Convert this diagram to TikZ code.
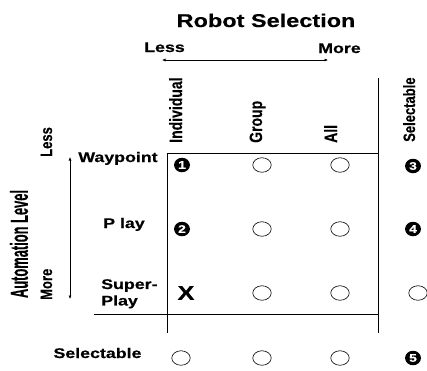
\documentclass[tikz,border=0pt]{standalone}
\usepackage{fontspec}
\setmainfont{Liberation Sans}[BoldFeatures={FakeBold=0.35}]
\usetikzlibrary{arrows.meta,shapes.geometric}

\begin{document}
\begin{tikzpicture}[x=0.787402pt, y=-1pt, xscale=1.27, transform shape,
  rule/.style={line width=0.8pt, black},
  dblarrow/.style={line width=0.6pt, {Latex[length=3.5pt,width=3pt]}-{Latex[length=3.5pt,width=3pt]}},
  lbl/.style={font=\fontsize{14}{16.5}\selectfont\bfseries, inner sep=0pt},
  collbl/.style={lbl, rotate=90, anchor=base west},
  sidelbl/.style={font=\fontsize{13}{15}\selectfont\bfseries, inner sep=0pt, rotate=90, anchor=base west},
  ring/.style={circle, draw, line width=0.6pt, minimum size=14.5pt, inner sep=0pt},
  numdot/.style={ellipse, fill=black, text=white, minimum width=12.5pt, minimum height=14.5pt,
                 inner sep=0pt, font=\fontsize{11}{11}\selectfont\bfseries},
  cross/.style={font=\fontsize{20}{22}\selectfont\bfseries, inner sep=0pt}]
\useasboundingbox (0,0) rectangle (427,370);

% headings
\node[font=\fontsize{18.5}{20}\selectfont\bfseries, anchor=base, inner sep=0pt] (title) at (266,27) {Robot Selection};
\node[lbl, anchor=base] (selLess) at (164.5,52) {Less};
\node[lbl, anchor=base] (selMore) at (339.5,53) {More};
\coordinate (selL) at (162,60);
\coordinate (selR) at (328,60);
\draw[dblarrow] (selL) -- (selR);

\node[rotate=90, xscale=0.66, font=\fontsize{19.5}{21}\selectfont\bfseries, inner sep=0pt] (autoTitle) at (19,244) {Automation Level};
\node[sidelbl] (autoLess) at (52,157) {Less};
\node[sidelbl] (autoMore) at (52,300) {More};
\coordinate (autoT) at (70,157);
\coordinate (autoB) at (70,299);
\draw[dblarrow] (autoT) -- (autoB);

% column labels
\node[collbl] (cInd) at (182,143) {Individual};
\node[collbl] (cGrp) at (262,143) {Group};
\node[collbl] (cAll) at (337,143) {All};
\node[collbl, font=\fontsize{13}{15}\selectfont\bfseries] (cSel) at (415,142) {Selectable};

% row labels
\node[lbl, anchor=base] (rWay) at (118,162) {Waypoint};
\node[lbl, anchor=base] (rPlay) at (124,228) {P lay};
\node[lbl, align=left, anchor=north west] (rSuper) at (101,279) {Super-\\Play};
\node[lbl, anchor=base] (rSel) at (97.5,358) {Selectable};

% grid rules
\coordinate (gridTL) at (167,153);
\coordinate (gridTR) at (378,153);
\coordinate (topR) at (378,78);
\coordinate (botR) at (378,333);
\coordinate (botL) at (167,333);
\coordinate (ruleL) at (94,314);
\coordinate (ruleR) at (378,314);
\draw[rule] (gridTL) -- (gridTR);
\draw[rule] (topR) -- (botR);
\draw[rule] (gridTL) -- (botL);
\draw[rule] (ruleL) -- (ruleR);

% cells
\node[numdot] (m11) at (182,165) {1};
\node[ring] (m12) at (262,165) {};
\node[ring] (m13) at (340,165) {};
\node[numdot] (m14) at (413,166) {3};

\node[numdot] (m21) at (182,229) {2};
\node[ring] (m22) at (262,229) {};
\node[ring] (m23) at (340,229) {};
\node[numdot] (m24) at (413,229) {4};

\node[cross] (m31) at (186,293) {X};
\node[ring] (m32) at (262,293) {};
\node[ring] (m33) at (340,293) {};
\node[ring] (m34) at (418,293) {};

\node[ring] (m41) at (181,358) {};
\node[ring] (m42) at (262,358) {};
\node[ring] (m43) at (340,358) {};
\node[numdot] (m44) at (413,358) {5};
\end{tikzpicture}
\end{document}
